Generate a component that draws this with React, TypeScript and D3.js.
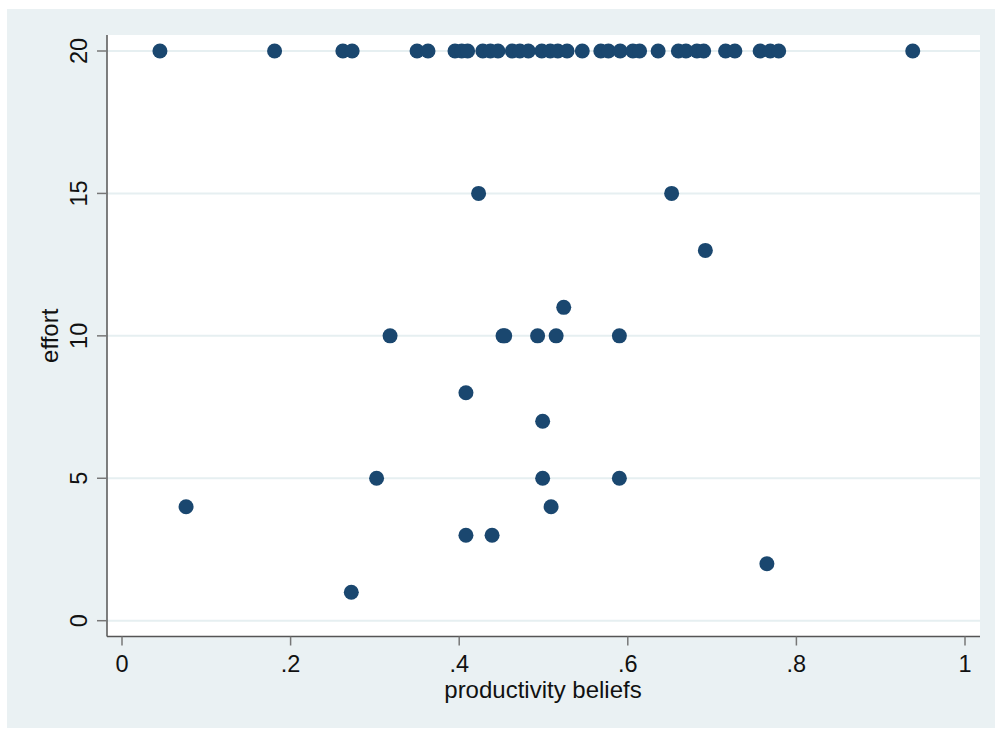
import React, { useEffect, useRef } from "react";
import * as d3 from "d3";

// productivity beliefs (x) and effort (y)
const beliefs = [
  0.045, 0.181, 0.262, 0.273, 0.35, 0.363, 0.395, 0.403, 0.41, 0.428, 0.437,
  0.446, 0.463, 0.472, 0.482, 0.498, 0.508, 0.517, 0.528, 0.546, 0.568, 0.577,
  0.591, 0.606, 0.614, 0.636, 0.66, 0.669, 0.682, 0.69, 0.716, 0.727, 0.757,
  0.769, 0.779, 0.938,
  0.423, 0.652, 0.692, 0.524, 0.318, 0.452, 0.454, 0.493, 0.515, 0.59, 0.408,
  0.499, 0.302, 0.499, 0.59, 0.076, 0.509, 0.408, 0.439, 0.765, 0.272,
];
const effort = [
  20, 20, 20, 20, 20, 20, 20, 20, 20, 20, 20, 20, 20, 20, 20, 20, 20, 20, 20,
  20, 20, 20, 20, 20, 20, 20, 20, 20, 20, 20, 20, 20, 20, 20, 20, 20,
  15, 15, 13, 11, 10, 10, 10, 10, 10, 10, 8, 7, 5, 5, 5, 4, 4, 3, 3, 2, 1,
];

const xTicks = [0, 0.2, 0.4, 0.6, 0.8, 1];
const xTickLabels = ["0", ".2", ".4", ".6", ".8", "1"];
const yTicks = [0, 5, 10, 15, 20];
const xTitle = "productivity beliefs";
const yTitle = "effort";

const App: React.FC = () => {
  const svgRef = useRef<SVGSVGElement | null>(null);

  useEffect(() => {
    const width = 995;
    const height = 729;
    const font = "'Liberation Sans', Arial, Helvetica, sans-serif";
    const bg = "#eaf1f3";
    const dot = "#1a476f";

    // plot region box
    const plotLeft = 107;
    const plotRight = 980;
    const plotTop = 35;
    const plotBottom = 636.5;

    const x = d3.scaleLinear().domain([0, 1]).range([122, 965]);
    const y = d3.scaleLinear().domain([0, 20]).range([620.7, 51]);

    const svg = d3
      .select(svgRef.current)
      .attr("width", width)
      .attr("height", height)
      .attr("viewBox", [0, 0, width, height])
      .style("position", "absolute")
      .style("left", "0px")
      .style("top", "0px")
      .style("font-family", font);

    svg.selectAll("*").remove();

    svg.append("rect").attr("width", width).attr("height", height).attr("fill", "#fff");
    svg
      .append("rect")
      .attr("x", 7)
      .attr("y", 9)
      .attr("width", width - 7)
      .attr("height", 719)
      .attr("fill", bg);

    svg
      .append("rect")
      .attr("x", plotLeft)
      .attr("y", plotTop)
      .attr("width", plotRight - plotLeft)
      .attr("height", plotBottom - plotTop)
      .attr("fill", "#fff");

    // gridlines
    svg
      .append("g")
      .selectAll("line")
      .data(yTicks)
      .join("line")
      .attr("x1", plotLeft)
      .attr("x2", plotRight)
      .attr("y1", (d) => y(d))
      .attr("y2", (d) => y(d))
      .attr("stroke", "#e6eff1")
      .attr("stroke-width", 2);

    // axis lines
    svg
      .append("line")
      .attr("x1", plotLeft)
      .attr("x2", plotLeft)
      .attr("y1", plotTop)
      .attr("y2", plotBottom)
      .attr("stroke", "#555")
      .attr("stroke-width", 1.5);
    svg
      .append("line")
      .attr("x1", plotLeft)
      .attr("x2", plotRight)
      .attr("y1", plotBottom)
      .attr("y2", plotBottom)
      .attr("stroke", "#555")
      .attr("stroke-width", 1.5);

    // x ticks
    const gx = svg.append("g");
    gx.selectAll("line")
      .data(xTicks)
      .join("line")
      .attr("x1", (d) => x(d))
      .attr("x2", (d) => x(d))
      .attr("y1", plotBottom)
      .attr("y2", plotBottom + 9)
      .attr("stroke", "#777")
      .attr("stroke-width", 1.5);
    gx.selectAll("text")
      .data(xTicks)
      .join("text")
      .attr("x", (d) => x(d))
      .attr("y", 672)
      .attr("text-anchor", "middle")
      .attr("font-size", 23.5)
      .attr("fill", "#111")
      .text((_, i) => xTickLabels[i]);

    // y ticks
    const gy = svg.append("g");
    gy.selectAll("line")
      .data(yTicks)
      .join("line")
      .attr("x1", plotLeft - 10)
      .attr("x2", plotLeft)
      .attr("y1", (d) => y(d))
      .attr("y2", (d) => y(d))
      .attr("stroke", "#777")
      .attr("stroke-width", 1.5);
    gy.selectAll("text")
      .data(yTicks)
      .join("text")
      .attr("transform", (d) => `translate(87,${y(d)}) rotate(-90)`)
      .attr("text-anchor", "middle")
      .attr("font-size", 23.5)
      .attr("fill", "#111")
      .text((d) => String(d));

    // titles
    svg
      .append("text")
      .attr("x", (plotLeft + plotRight) / 2 - 0.5)
      .attr("y", 698)
      .attr("text-anchor", "middle")
      .attr("font-size", 24)
      .attr("fill", "#111")
      .text(xTitle);
    svg
      .append("text")
      .attr("transform", `translate(58,${(plotTop + plotBottom) / 2}) rotate(-90)`)
      .attr("text-anchor", "middle")
      .attr("font-size", 24)
      .attr("fill", "#111")
      .text(yTitle);

    // points
    svg
      .append("g")
      .selectAll("circle")
      .data(beliefs)
      .join("circle")
      .attr("cx", (d) => x(d))
      .attr("cy", (_, i) => y(effort[i]))
      .attr("r", 7.5)
      .attr("fill", dot);
  }, []);

  return (
    <div>
      <svg ref={svgRef}></svg>
    </div>
  );
};

export default App;
